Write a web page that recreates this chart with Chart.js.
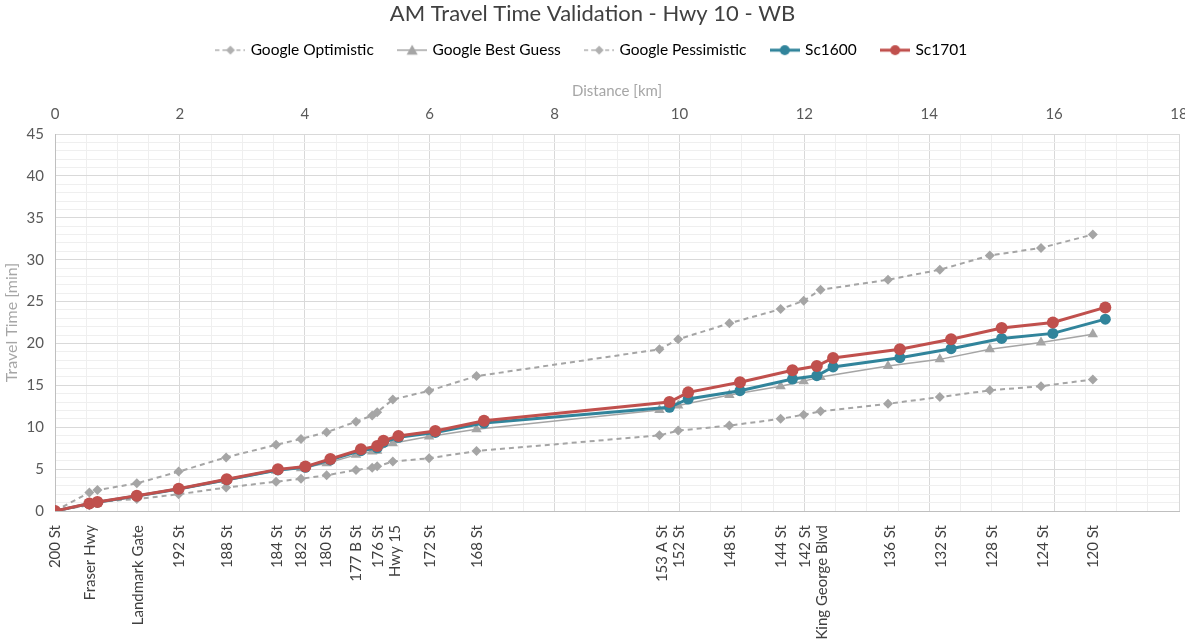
<!DOCTYPE html>
<html>
<head>
<meta charset="utf-8">
<script src="https://cdn.jsdelivr.net/npm/chart.js@4/dist/chart.umd.min.js"></script>
<style>
  html, body { margin: 0; padding: 0; background: #fff; }
</style>
</head>
<body>
<canvas id="grafico" width="1185" height="643"></canvas>
<script>
// distances (km) where the google points sit, and where the model points sit
const googleKm = [0, 0.55, 0.68, 1.31, 1.98, 2.74, 3.54, 3.94, 4.35, 4.82, 5.08, 5.16, 5.41, 5.99, 6.75, 9.68, 9.98, 10.80, 11.62, 11.99, 12.26, 13.34, 14.17, 14.97, 15.79, 16.62];
const scKm = [0, 0.55, 0.68, 1.31, 1.98, 2.75, 3.57, 4.01, 4.41, 4.90, 5.16, 5.26, 5.50, 6.09, 6.87, 9.84, 10.14, 10.97, 11.81, 12.20, 12.46, 13.53, 14.35, 15.16, 15.98, 16.82];

// travel times (min)
const googleOptimistic = [0, 0.7, 1.1, 1.43, 2.0, 2.8, 3.5, 3.85, 4.26, 4.9, 5.17, 5.33, 5.9, 6.3, 7.16, 9.03, 9.6, 10.2, 11.0, 11.5, 11.9, 12.8, 13.6, 14.4, 14.9, 15.7];
const googleBestGuess = [0, 0.9, 1.1, 1.8, 2.6, 3.6, 4.8, 5.1, 5.7, 6.7, 7.1, 7.2, 8.1, 8.9, 9.75, 12.05, 12.6, 13.85, 14.9, 15.5, 16.0, 17.3, 18.1, 19.3, 20.1, 21.1];
const googlePessimistic = [0, 2.2, 2.5, 3.3, 4.7, 6.4, 7.9, 8.6, 9.4, 10.66, 11.4, 11.8, 13.3, 14.35, 16.1, 19.3, 20.5, 22.4, 24.1, 25.1, 26.4, 27.6, 28.8, 30.5, 31.4, 33.0];
const sc1600 = [0, 0.88, 1.05, 1.8, 2.62, 3.72, 4.9, 5.22, 6.1, 7.2, 7.55, 8.2, 8.8, 9.38, 10.5, 12.37, 13.37, 14.36, 15.75, 16.15, 17.2, 18.3, 19.37, 20.6, 21.2, 22.9];
const sc1701 = [0, 0.9, 1.07, 1.83, 2.66, 3.78, 4.97, 5.3, 6.2, 7.36, 7.76, 8.4, 8.95, 9.55, 10.78, 13.0, 14.16, 15.36, 16.8, 17.3, 18.26, 19.3, 20.5, 21.84, 22.5, 24.3];

// cross streets along the bottom
const ruas = ['200 St', 'Fraser Hwy', 'Landmark Gate', '192 St', '188 St', '184 St', '182 St', '180 St', '177 B St', '176 St', 'Hwy 15', '172 St', '168 St', '153 A St', '152 St', '148 St', '144 St', '142 St', 'King George Blvd', '136 St', '132 St', '128 St', '124 St', '120 St'];
const ruasKm = [0, 0.56, 1.33, 1.99, 2.75, 3.56, 3.95, 4.35, 4.83, 5.17, 5.44, 6.01, 6.76, 9.72, 10.0, 10.82, 11.63, 12.01, 12.29, 13.37, 14.19, 15.0, 15.82, 16.63];

const cinza = '#A5A5A5';
const azul = '#31849B';
const vermelho = '#C0504D';
const fonte = 'Lato, "Open Sans", sans-serif';

function pontos(xs, ys) {
    return xs.map((x, i) => ({ x: x, y: ys[i] }));
}

// little line + marker pictures for the legend, like excel draws them
function marcador(cor, tipo, tracejado, espessura) {
    const c = document.createElement('canvas');
    c.width = 30;
    c.height = 14;
    const g = c.getContext('2d');
    g.strokeStyle = cor;
    g.lineWidth = espessura;
    if (tracejado) g.setLineDash([4, 3]);
    g.beginPath();
    g.moveTo(0, 7);
    g.lineTo(30, 7);
    g.stroke();
    g.setLineDash([]);
    g.fillStyle = cor;
    g.beginPath();
    if (tipo === 'losango') {
        g.moveTo(15, 2.5); g.lineTo(19.5, 7); g.lineTo(15, 11.5); g.lineTo(10.5, 7);
    } else if (tipo === 'triangulo') {
        g.moveTo(15, 1.5); g.lineTo(20.5, 11.5); g.lineTo(9.5, 11.5);
    } else {
        g.arc(15, 7, 5, 0, Math.PI * 2);
    }
    g.closePath();
    g.fill();
    return c;
}

const marcadores = [
    marcador('#B0B0B0', 'losango', true, 1.5),
    marcador(cinza, 'triangulo', false, 1.5),
    marcador('#B0B0B0', 'losango', true, 1.5),
    marcador(azul, 'circulo', false, 3),
    marcador(vermelho, 'circulo', false, 3)
];

function gerarGrafico() {
    const ctx = document.getElementById('grafico').getContext('2d');

    const tracejada = (label, valores, ordem) => ({
        label: label,
        data: pontos(googleKm, valores),
        showLine: true,
        borderColor: cinza,
        backgroundColor: cinza,
        borderWidth: 2,
        borderDash: [5, 4],
        pointStyle: 'rectRot',
        pointRadius: 5,
        pointBorderWidth: 0,
        order: ordem
    });

    const dados = {
        datasets: [
            tracejada('Google Optimistic', googleOptimistic, 3),
            {
                label: 'Google Best Guess',
                data: pontos(googleKm, googleBestGuess),
                showLine: true,
                borderColor: cinza,
                backgroundColor: cinza,
                borderWidth: 1.5,
                pointStyle: 'triangle',
                pointRadius: 6,
                pointBorderWidth: 0,
                order: 2
            },
            tracejada('Google Pessimistic', googlePessimistic, 4),
            {
                label: 'Sc1600',
                data: pontos(scKm, sc1600),
                showLine: true,
                borderColor: azul,
                backgroundColor: azul,
                borderWidth: 3,
                pointRadius: 5.5,
                pointBorderWidth: 0,
                order: 1
            },
            {
                label: 'Sc1701',
                data: pontos(scKm, sc1701),
                showLine: true,
                borderColor: vermelho,
                backgroundColor: vermelho,
                borderWidth: 3,
                pointRadius: 6,
                pointBorderWidth: 0,
                order: 0
            }
        ]
    };

    new Chart(ctx, {
        type: 'scatter',
        data: dados,
        options: {
            responsive: false,
            animation: false,
            layout: { padding: { left: 0, right: 0, top: 0, bottom: 0 } },
            scales: {
                x: {
                    type: 'linear',
                    position: 'bottom',
                    min: 0,
                    max: 18,
                    afterBuildTicks: (scale) => {
                        scale.ticks = ruasKm.map(v => ({ value: v }));
                    },
                    afterFit: (scale) => { scale.height = 132; },
                    grid: { display: false },
                    border: { display: true, color: '#BFBFBF', width: 1 },
                    ticks: {
                        autoSkip: false,
                        minRotation: 90,
                        maxRotation: 90,
                        padding: 6,
                        color: '#404040',
                        font: { family: fonte, size: 15 },
                        callback: (valor, indice) => ruas[indice]
                    }
                },
                xTopo: {
                    type: 'linear',
                    position: 'top',
                    min: 0,
                    max: 18,
                    afterFit: (scale) => {
                        const ch = scale.chart;
                        const acima = (ch.titleBlock ? ch.titleBlock.height : 0) + (ch.legend ? ch.legend.height : 0);
                        scale.height = 134 - acima;
                        // excel lets the "18" run off the edge
                        scale.paddingRight = 6;
                    },
                    grid: {
                        drawTicks: false,
                        color: (c) => (c.tick && c.tick.value % 2 === 0) ? '#D9D9D9' : '#EFEFEF'
                    },
                    border: { display: false },
                    ticks: {
                        stepSize: 0.5,
                        autoSkip: false,
                        maxRotation: 0,
                        padding: 11,
                        color: '#595959',
                        font: { family: fonte, size: 15 },
                        callback: (v) => v % 2 === 0 ? v : ''
                    },
                    title: {
                        display: true,
                        text: 'Distance [km]',
                        color: '#A6A6A6',
                        font: { family: fonte, size: 15 },
                        padding: { top: 14, bottom: 0 }
                    }
                },
                y: {
                    min: 0,
                    max: 45,
                    afterFit: (scale) => { scale.width = 55; },
                    grid: {
                        drawTicks: false,
                        color: (c) => (c.tick && c.tick.value % 5 === 0) ? '#D9D9D9' : '#EFEFEF'
                    },
                    border: { display: true, color: '#BFBFBF', width: 1 },
                    ticks: {
                        stepSize: 1,
                        autoSkip: false,
                        padding: 11,
                        color: '#595959',
                        font: { family: fonte, size: 15 },
                        callback: (v) => v % 5 === 0 ? v : ''
                    },
                    title: {
                        display: true,
                        text: 'Travel Time [min]',
                        color: '#A6A6A6',
                        font: { family: fonte, size: 16 },
                        padding: { top: 2, bottom: 2 }
                    }
                }
            },
            plugins: {
                title: {
                    display: true,
                    text: 'AM Travel Time Validation - Hwy 10 - WB',
                    color: '#404040',
                    font: { family: fonte, size: 22, weight: 'normal' },
                    padding: { top: 1, bottom: 5 }
                },
                legend: {
                    position: 'top',
                    labels: {
                        usePointStyle: true,
                        pointStyleWidth: 25,
                        padding: 10,
                        color: '#595959',
                        font: { family: fonte, size: 15.5 },
                        generateLabels: (chart) => chart.data.datasets.map((ds, i) => ({
                            text: i < chart.data.datasets.length - 1 ? ds.label + '    ' : ds.label,
                            pointStyle: marcadores[i],
                            fillStyle: ds.borderColor,
                            strokeStyle: ds.borderColor,
                            lineWidth: 0,
                            hidden: false,
                            datasetIndex: i
                        }))
                    }
                },
                tooltip: { enabled: false }
            }
        }
    });
}

window.onload = gerarGrafico;
</script>
</body>
</html>
